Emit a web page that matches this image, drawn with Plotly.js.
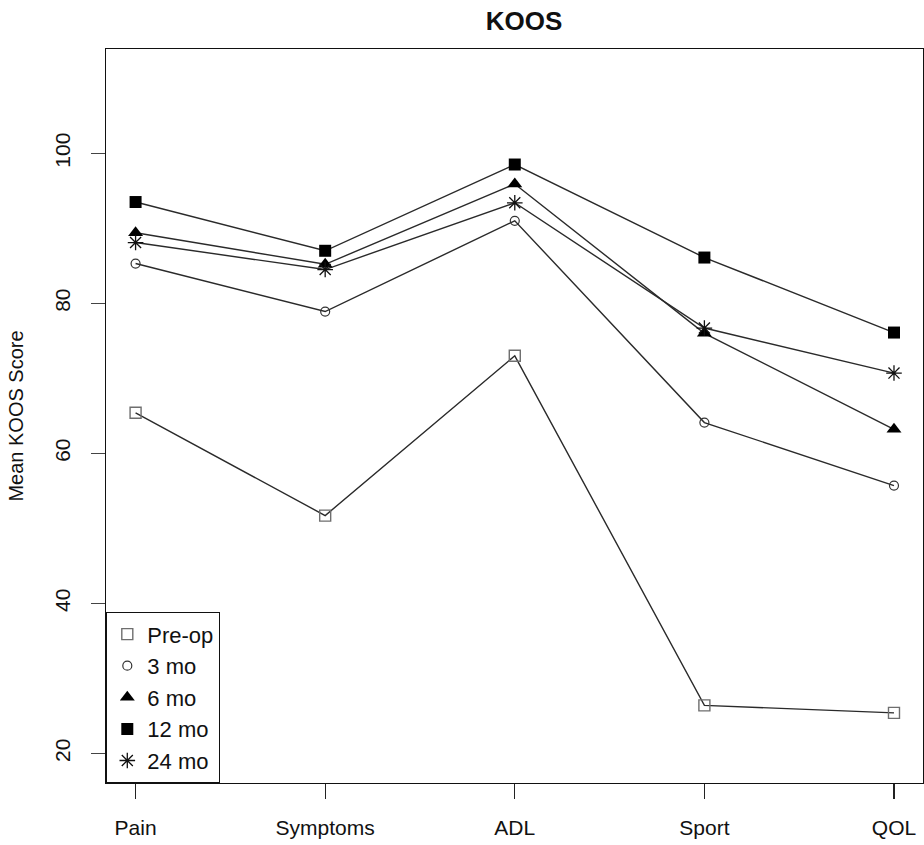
<!DOCTYPE html>
<html>
<head>
<meta charset="utf-8">
<script src="https://cdn.plot.ly/plotly-3.0.1.min.js"></script>
<style>html,body{margin:0;padding:0;background:#fff;}#chart{width:924px;height:845px;}</style>
</head>
<body>
<div id="chart"></div>
<script>
// Data
const categories = ["Pain", "Symptoms", "ADL", "Sport", "QOL"];
const seriesNames = ["Pre-op", "3 mo", "6 mo", "12 mo", "24 mo"];
const preop = [65.4, 51.7, 73.0, 26.4, 25.4];
const mo3   = [85.3, 78.9, 91.0, 64.1, 55.7];
const mo6   = [89.4, 85.2, 95.9, 76.0, 63.2];
const mo12  = [93.5, 87.0, 98.5, 86.1, 76.1];
const mo24  = [88.1, 84.5, 93.4, 76.7, 70.7];
const yTicks = [20, 40, 60, 80, 100];

const allSeries = [preop, mo3, mo6, mo12, mo24];
const markerStyles = [
  {symbol: "square-open", size: 11, color: "#6e6e6e", line: {width: 1.4, color: "#6e6e6e"}},
  {symbol: "circle-open", size: 9, color: "#333", line: {width: 1.2, color: "#333"}},
  {symbol: "triangle-up", size: 13, color: "#000", line: {width: 0}},
  {symbol: "square", size: 12, color: "#000", line: {width: 0}},
  {symbol: "asterisk-open", size: 13, color: "#111", line: {width: 1.3, color: "#111"}}
];
const xIdx = categories.map((c, i) => i);

const traces = [];
allSeries.forEach((vals, k) => {
  traces.push({
    x: xIdx, y: vals, type: "scatter", mode: "lines",
    line: {color: "#2a2a2a", width: 1.4}, showlegend: false, hoverinfo: "skip"
  });
});
allSeries.forEach((vals, k) => {
  traces.push({
    x: xIdx, y: vals, type: "scatter", mode: "markers", name: seriesNames[k],
    marker: markerStyles[k], showlegend: true
  });
});

const layout = {
  width: 924, height: 845,
  margin: {l: 106, r: 1, t: 49, b: 62},
  paper_bgcolor: "#fff", plot_bgcolor: "#fff",
  font: {family: "Liberation Sans, Arial, sans-serif", size: 22, color: "#111"},
  title: {text: "<b>KOOS</b>", x: 524/924, xanchor: "center", y: 1 - 21/845, yanchor: "middle",
          font: {family: "Liberation Sans, Arial, sans-serif", size: 26, color: "#111"}},
  showlegend: true,
  legend: {
    x: 0, y: 0, xanchor: "left", yanchor: "bottom",
    bordercolor: "#111", borderwidth: 1.3, bgcolor: "#fff",
    font: {size: 22, color: "#111"}, itemwidth: 30, tracegroupgap: 0,
    traceorder: "normal"
  },
  xaxis: {
    range: [-0.156, 4.153], tickvals: xIdx, ticktext: categories,
    showgrid: false, zeroline: false, showline: true, mirror: true,
    linecolor: "#111", linewidth: 1.3,
    ticks: "outside", ticklen: 15, tickwidth: 1.3, tickcolor: "#222",
    tickfont: {size: 21}, ticklabelstandoff: 10, fixedrange: true
  },
  yaxis: {
    range: [16.05, 113.9], tickvals: yTicks, ticktext: yTicks.map(String),
    showgrid: false, zeroline: false, showline: true, mirror: true,
    linecolor: "#111", linewidth: 1.3,
    ticks: "outside", ticklen: 14, tickwidth: 1.3, tickcolor: "#444",
    tickangle: -90, tickfont: {size: 21}, ticklabelstandoff: 12,
    title: {text: "Mean KOOS Score", font: {size: 20}, standoff: 22},
    fixedrange: true
  }
};

Plotly.newPlot("chart", traces, layout, {displayModeBar: false, staticPlot: true});
</script>
</body>
</html>
